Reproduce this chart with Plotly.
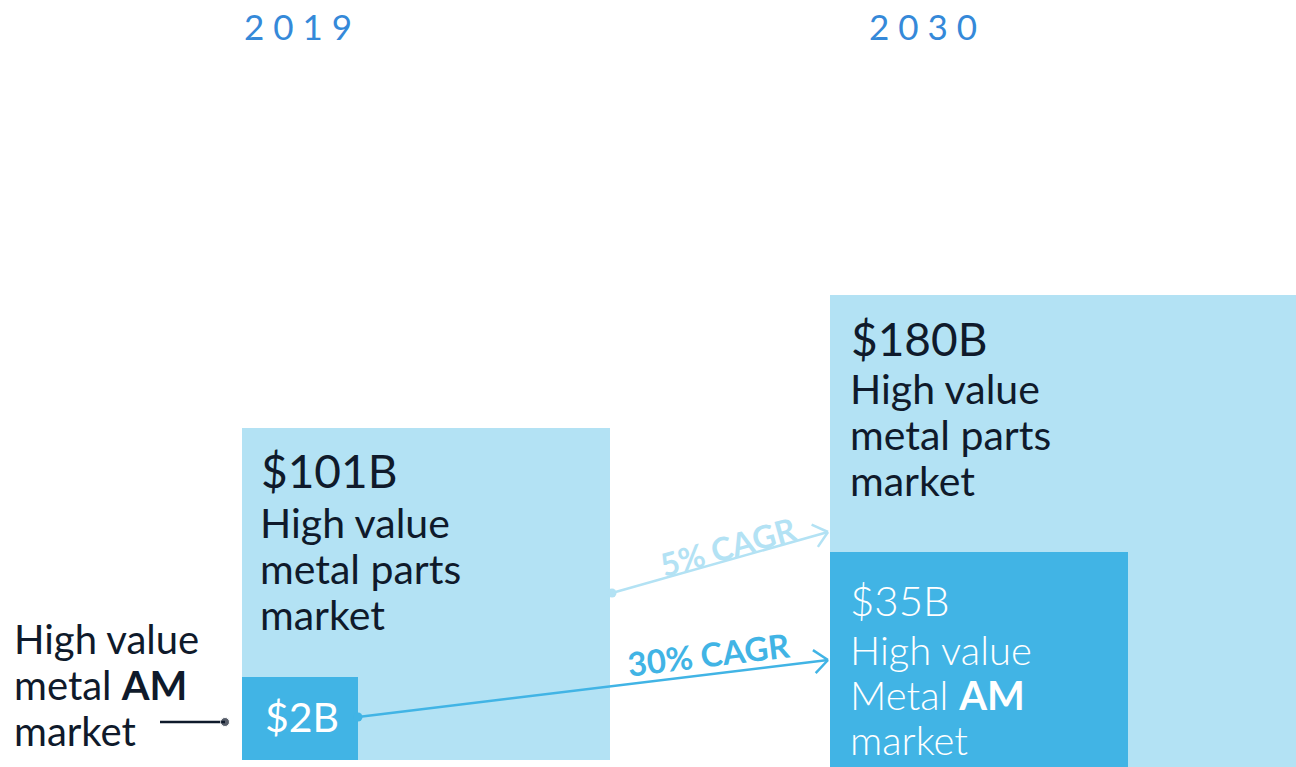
import math
import plotly.graph_objects as go

# data
years = ["2019", "2030"]
total_market = [101, 180]          # $B, high value metal parts market
am_market = [2, 35]                # $B, high value metal AM market
cagr_total = 5                     # %
cagr_am = 30                       # %

LIGHT = "#b3e2f4"
MID = "#41b4e5"
DARK = "#0f1a2b"
YEAR_C = "#3589d9"
FONT = "Lato"

# box geometry in pixel space (x right, y down)
W, H = 1296, 767
big_box = [(242, 610, 428, 760), (830, 1296, 295, 767)]
small_box = [(242, 358, 677, 760), (830, 1128, 552, 767)]
year_x = [242, 867]

fig = go.Figure()


def add_box(b, color):
    x0, x1, top, bot = b
    fig.add_trace(go.Bar(x=[(x0 + x1) / 2], y=[bot - top], base=[top], width=[x1 - x0],
                         marker=dict(color=color, line=dict(width=0)),
                         hoverinfo="skip", showlegend=False))


for b in big_box:
    add_box(b, LIGHT)
for b in small_box:
    add_box(b, MID)


def add_lines(x, y0, lines, size, color, step=46, weight=400):
    y = y0
    for t in lines:
        fig.add_annotation(x=x, y=y, text=t, showarrow=False, xanchor="left", yanchor="middle",
                           font=dict(family=FONT, size=size, color=color, weight=weight))
        y += step


# year headers
for yr, xh in zip(years, year_x):
    fig.add_annotation(x=xh, y=26, text=" ".join(yr), showarrow=False, xanchor="left",
                       yanchor="middle", font=dict(family=FONT, size=35, color=YEAR_C))

# 2019 total
add_lines(259, 470, ["$%dB" % total_market[0]], 46, DARK)
add_lines(258, 522, ["High value", "metal parts", "market"], 41, DARK)
# 2030 total
add_lines(849, 338, ["$%dB" % total_market[1]], 46, DARK)
add_lines(848, 388, ["High value", "metal parts", "market"], 41, DARK)
# 2019 AM
add_lines(263, 716, ["$%dB" % am_market[0]], 41, "white", weight=400)
# 2030 AM
add_lines(848, 600, ["$%dB" % am_market[1]], 42, "white", weight=300)
add_lines(848, 650, ["High value", "Metal <b>AM</b>", "market"], 40, "white", step=45, weight=300)
# left label
add_lines(12, 639, ["High value", "metal <b>AM</b>", "market"], 40, DARK, step=46)

# connector for left label
fig.add_trace(go.Scatter(x=[160, 225], y=[722, 722], mode="lines+markers",
                         line=dict(color=DARK, width=2.5),
                         marker=dict(size=[0, 9], color=DARK),
                         hoverinfo="skip", showlegend=False))


def add_arrow(p0, p1, color, label, label_pos, size):
    (xa, ya), (xb, yb) = p0, p1
    fig.add_trace(go.Scatter(x=[xa, xb], y=[ya, yb], mode="lines",
                             line=dict(color=color, width=2.5),
                             hoverinfo="skip", showlegend=False))
    fig.add_trace(go.Scatter(x=[xa], y=[ya], mode="markers",
                             marker=dict(size=9, color=color),
                             hoverinfo="skip", showlegend=False))
    ang = math.atan2(yb - ya, xb - xa)
    hl = 18
    cx, cy = [], []
    for d in (math.radians(40), -math.radians(40)):
        cx += [xb - hl * math.cos(ang + d), xb, None]
        cy += [yb - hl * math.sin(ang + d), yb, None]
    fig.add_trace(go.Scatter(x=cx, y=cy, mode="lines", line=dict(color=color, width=2.5),
                             hoverinfo="skip", showlegend=False))
    deg = math.degrees(ang)
    fig.add_annotation(x=label_pos[0], y=label_pos[1], text="<b>%s</b>" % label, showarrow=False,
                       textangle=deg, font=dict(family=FONT, size=size, color=color, weight=900))


add_arrow((612, 593), (828, 532), LIGHT, "%d%% CAGR" % cagr_total, (727, 546), 32)
add_arrow((358, 717), (828, 660), MID, "%d%% CAGR" % cagr_am, (708, 654), 33)

fig.update_layout(
    width=W, height=H, margin=dict(l=0, r=0, t=0, b=0),
    paper_bgcolor="white", plot_bgcolor="white", barmode="overlay", bargap=0,
    xaxis=dict(range=[0, W], visible=False, fixedrange=True),
    yaxis=dict(range=[H, 0], visible=False, fixedrange=True),
)
fig.write_html("out.html", config={"displayModeBar": False},
               post_script="document.body.style.margin='0';")
